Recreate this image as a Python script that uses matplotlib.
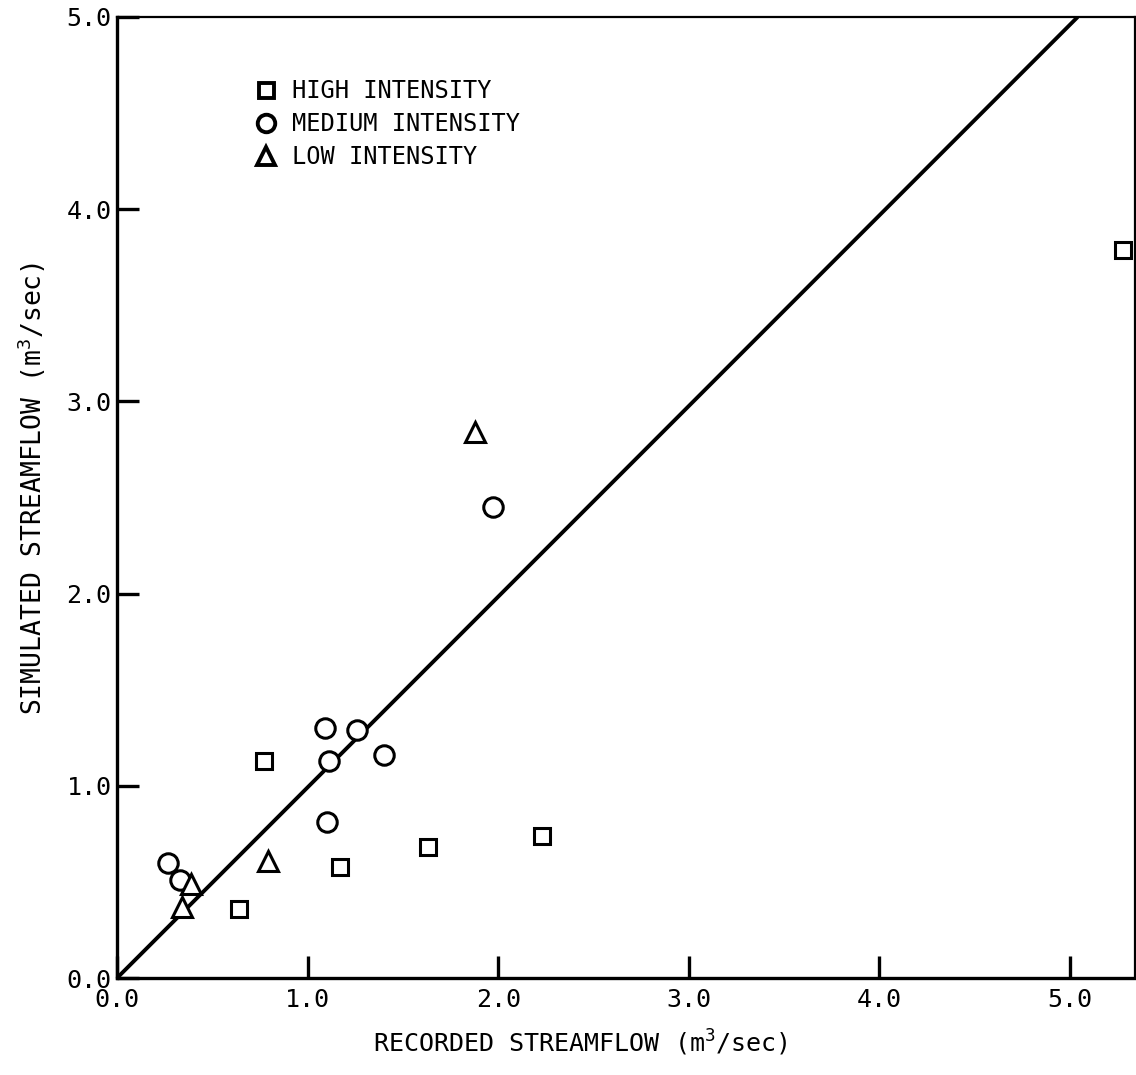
import matplotlib
matplotlib.use("Agg")
import matplotlib.pyplot as plt

plt.rcParams['font.family'] = ['DejaVu Sans Mono']
plt.rcParams['mathtext.fontset'] = 'custom'
plt.rcParams['mathtext.rm'] = 'DejaVu Sans Mono'
plt.rcParams['mathtext.it'] = 'DejaVu Sans Mono'

# Data (recorded, simulated) in m^3/sec
high_x = [5.28, 0.77, 2.23, 1.63, 1.17, 0.64]
high_y = [3.79, 1.13, 0.74, 0.68, 0.58, 0.36]

medium_x = [1.09, 1.26, 1.11, 1.40, 1.10, 0.27, 0.33, 1.97]
medium_y = [1.30, 1.29, 1.13, 1.16, 0.81, 0.60, 0.51, 2.45]

low_x = [0.79, 0.39, 0.34, 1.88]
low_y = [0.61, 0.49, 0.37, 2.84]

line_x = [0.0, 5.04]
line_y = [0.0, 5.0]

ticks = [0.0, 1.0, 2.0, 3.0, 4.0, 5.0]
tick_labels = ["0.0", "1.0", "2.0", "3.0", "4.0", "5.0"]

fig = plt.figure(figsize=(11.36, 10.75), dpi=100)
ax = fig.add_axes([0.103, 0.0902, 0.896, 0.894])

ax.plot(line_x, line_y, color='black', lw=2.8, solid_capstyle='butt', zorder=2)

mk = dict(linestyle='none', markerfacecolor='white', markeredgecolor='black',
          markeredgewidth=2.2, zorder=3)
ax.plot(high_x, high_y, marker='s', markersize=12, label='HIGH INTENSITY', **mk)
ax.plot(medium_x, medium_y, marker='o', markersize=14, label='MEDIUM INTENSITY', **mk)
ax.plot(low_x, low_y, marker='^', markersize=15, label='LOW INTENSITY', **mk)

ax.set_xlim(0, 5.34)
ax.set_ylim(0, 5.0)
ax.set_xticks(ticks)
ax.set_xticklabels(tick_labels)
ax.set_yticks(ticks)
ax.set_yticklabels(tick_labels)
ax.tick_params(direction='in', length=16, width=2.4, labelsize=18, pad=4,
               top=False, right=False)
ax.tick_params(axis='x', pad=7)

for side in ['left', 'bottom']:
    ax.spines[side].set_linewidth(2.4)
for side in ['top', 'right']:
    ax.spines[side].set_linewidth(1.6)

ax.set_xlabel('RECORDED STREAMFLOW (m$^{\\mathregular{3}}$/sec)', fontsize=18, va='center')
ax.set_ylabel('SIMULATED STREAMFLOW (m$^{\\mathregular{3}}$/sec)', fontsize=19, va='center')
ax.xaxis.set_label_coords(0.455, -0.068)
ax.yaxis.set_label_coords(-0.0835, 0.51)

leg = ax.legend(loc='upper left', bbox_to_anchor=(0.128, 0.945), frameon=False,
                fontsize=17, handlelength=0.8, handletextpad=0.7, labelspacing=0.38,
                markerscale=0.9, borderaxespad=0)
for h in leg.legend_handles:
    h.set_markeredgewidth(2.8)

fig.savefig('out.png', dpi=100)
